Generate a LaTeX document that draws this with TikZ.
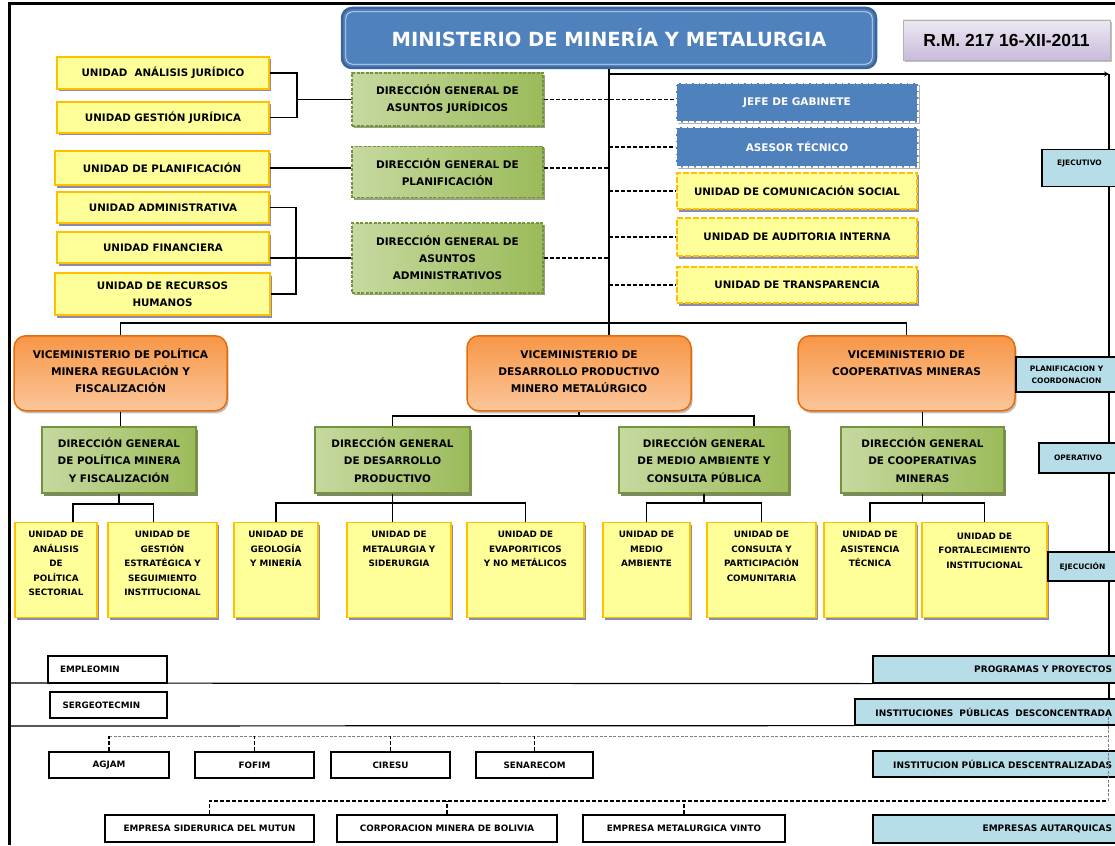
\documentclass[tikz,border=0pt]{standalone}
\usepackage{fontspec}
\setmainfont{DejaVu Sans}
\newfontfamily\arialfont{Liberation Sans}
\usepackage{tikz}
\usetikzlibrary{positioning,shadows}
\definecolor{MinBlue}{HTML}{4F81BD}
\definecolor{MinEdge}{HTML}{3A659A}
\definecolor{UnitYellow}{HTML}{FFFF99}
\definecolor{UnitEdge}{HTML}{FFC000}
\definecolor{UnitShade}{HTML}{5A5A8C}
\definecolor{DGGreen}{HTML}{9BBB59}
\definecolor{DGLight}{HTML}{C6D9A0}
\definecolor{DGEdge}{HTML}{76923C}
\definecolor{VMOrange}{HTML}{F79646}
\definecolor{VMLight}{HTML}{FBC69A}
\definecolor{VMEdge}{HTML}{E46C0A}
\definecolor{TierBlue}{HTML}{B7DEE8}
\definecolor{RMLight}{HTML}{EDE8F2}
\definecolor{RMDark}{HTML}{C9BCDB}
\newcommand{\setfs}[2]{\fontsize{#1}{#2}\selectfont\bfseries}

\begin{document}
\begin{tikzpicture}[x=1pt, y=-1pt,
      every node/.style={align=center, inner sep=1pt},
      wh/.style 2 args={minimum width=#1pt, minimum height=#2pt},
      topt/.style n args={3}{text width=#1pt, text height=#2pt, text depth=#3pt, inner sep=0pt, anchor=north},
      link/.style={line width=1.2pt},
      dline/.style={line width=1.1pt, dash pattern=on 4pt off 2pt},
      gdash/.style={gray, line width=1pt, dash pattern=on 3pt off 1.5pt},
      minbox/.style={fill=MinBlue, draw=MinEdge, line width=2.5pt, rounded corners=10pt, text=white, font=\setfs{19.5}{22}},
      rmbox/.style={top color=RMLight, bottom color=RMDark, draw=gray!60, line width=0.8pt, drop shadow={shadow xshift=1.5pt, shadow yshift=-2pt, fill=gray, opacity=.5}, font=\arialfont\setfs{17.5}{20}},
      unit/.style={fill=UnitYellow, draw=UnitEdge, line width=1.2pt, drop shadow={shadow xshift=2pt, shadow yshift=-2.5pt, fill=UnitShade, opacity=.7}, font=\setfs{10.3}{17}},
      unitd/.style={unit, dash pattern=on 6pt off 2pt},
      ucell/.style={unit, font=\setfs{8.8}{14.5}},
      dgtop/.style={left color=DGLight, right color=DGGreen, draw=DGEdge, line width=1.2pt, dash pattern=on 3pt off 1.5pt, drop shadow={shadow xshift=1.5pt, shadow yshift=-2pt, fill=DGEdge!70!black, opacity=.6}, font=\setfs{10.5}{17}},
      dg/.style={left color=DGLight, right color=DGGreen, draw=DGEdge, line width=1.2pt, drop shadow={shadow xshift=2pt, shadow yshift=-2.5pt, fill=DGEdge!60!black, opacity=.7}, font=\setfs{10.4}{17.5}},
      vice/.style={top color=VMOrange, bottom color=VMLight, draw=VMEdge, line width=1.5pt, rounded corners=12pt, drop shadow={shadow xshift=1.5pt, shadow yshift=-2.5pt, fill=gray, opacity=.5}, font=\setfs{10.6}{17}},
      staff/.style={fill=MinBlue, draw=white, line width=2pt, dash pattern=on 5pt off 1.5pt, text=white, drop shadow={shadow xshift=1.5pt, shadow yshift=-2pt, fill=gray, opacity=.6}, font=\setfs{10.5}{13}},
      tier/.style={fill=TierBlue, draw=black, line width=1.2pt, font=\setfs{7.5}{12}},
      wtier/.style={tier, align=right, inner xsep=5pt, font=\setfs{9}{11}},
      outbox/.style={fill=white, draw=black, line width=1.2pt, font=\setfs{8.8}{11}}
    ]
      \useasboundingbox (0,0) rectangle (1115,845);
      % Frame and level rail
      \draw[line width=3pt] (8,4) -- (1115,4);
      \draw[line width=3pt] (9,4) -- (9,845);
      \coordinate (rail) at (1109,74);
      \coordinate (railend) at (1109,699);
      \coordinate (ib) at (1108,736);
      \coordinate (eb) at (1108,801);
      \draw[link] (rail) -- (railend);

      % Ministry
      \node[minbox, wh={534}{60}] (min) at (609,38) {MINISTERIO DE MINERÍA Y METALURGIA};
      \draw[white!75!MinBlue, line width=0.8pt, rounded corners=7pt] ([shift={(5pt,-5pt)}]min.north west) rectangle ([shift={(-5pt,5pt)}]min.south east);
      \node[rmbox, wh={207}{40}] (rm) at (1006.5,40) {R.M. 217 16-XII-2011};

      % Support units (left)
      \node[unit, wh={212}{32}] (uaj) at (163,73) {UNIDAD \ ANÁLISIS JURÍDICO};
      \node[unit, wh={212}{31}] (ugj) at (163,117.5) {UNIDAD GESTIÓN JURÍDICA};
      \node[unit, wh={214}{34}] (upl) at (162,168) {UNIDAD DE PLANIFICACIÓN};
      \node[unit, wh={212}{31}] (uadm) at (163,207.5) {UNIDAD ADMINISTRATIVA};
      \node[unit, wh={212}{31}] (ufin) at (163,247.5) {UNIDAD FINANCIERA};
      \node[unit, wh={215}{42}] (urh) at (162.5,294) {UNIDAD DE RECURSOS\\HUMANOS};

      % General directions (support)
      \node[dgtop, wh={191}{53}] (dgaj) at (447.5,99.5) {DIRECCIÓN GENERAL DE\\ASUNTOS JURÍDICOS};
      \node[dgtop, wh={191}{51}] (dgpl) at (447.5,172) {DIRECCIÓN GENERAL DE\\PLANIFICACIÓN};
      \node[dgtop, wh={191}{70}] (dgaa) at (447.5,258) {DIRECCIÓN GENERAL DE\\ASUNTOS\\ADMINISTRATIVOS};

      % Staff (right)
      \node[staff, wh={242}{39}] (jefe) at (797,102.5) {JEFE DE GABINETE};
      \node[staff, wh={242}{40}] (ases) at (797,147) {ASESOR TÉCNICO};
      \node[unitd, wh={240}{36}] (ucs) at (797,191) {UNIDAD DE COMUNICACIÓN SOCIAL};
      \node[unitd, wh={240}{38}] (uai) at (797,237) {UNIDAD DE AUDITORIA INTERNA};
      \node[unitd, wh={240}{36}] (utr) at (797,285) {UNIDAD DE TRANSPARENCIA};

      % Vice ministries
      \node[vice, topt={213}{22.7}{52.3}] (vm1) at (120.5,335) {VICEMINISTERIO DE POLÍTICA\\MINERA REGULACIÓN Y\\FISCALIZACIÓN};
      \node[vice, topt={224}{22.7}{52.3}] (vm2) at (579,335) {VICEMINISTERIO DE\\DESARROLLO PRODUCTIVO\\MINERO METALÚRGICO};
      \node[vice, topt={217}{22.7}{52.3}] (vm3) at (906.5,335) {VICEMINISTERIO DE\\COOPERATIVAS MINERAS};

      % General directions (line)
      \node[dg, wh={154}{66}] (dgpm) at (119,460) {DIRECCIÓN GENERAL\\DE POLÍTICA MINERA\\Y FISCALIZACIÓN};
      \node[dg, wh={155}{66}] (dgdp) at (392.5,460) {DIRECCIÓN GENERAL\\DE DESARROLLO\\PRODUCTIVO};
      \node[dg, wh={170}{66}] (dgma) at (704,460) {DIRECCIÓN GENERAL\\DE MEDIO AMBIENTE Y\\CONSULTA PÚBLICA};
      \node[dg, wh={163}{66}] (dgcm) at (922.5,460) {DIRECCIÓN GENERAL\\DE COOPERATIVAS\\MINERAS};

      % Units (line)
      \node[ucell, topt={82}{15.3}{79.7}] (uasp) at (56,522) {UNIDAD DE\\ANÁLISIS\\DE\\POLÍTICA\\SECTORIAL};
      \node[ucell, topt={109}{15.3}{79.7}] (ugep) at (162.5,522) {UNIDAD DE\\GESTIÓN\\ESTRATÉGICA Y\\SEGUIMIENTO\\INSTITUCIONAL};
      \node[ucell, topt={84}{15.3}{79.7}] (ugeo) at (276,522) {UNIDAD DE\\GEOLOGÍA\\Y MINERÍA};
      \node[ucell, topt={104}{15.3}{79.7}] (umet) at (399,522) {UNIDAD DE\\METALURGIA Y\\SIDERURGIA};
      \node[ucell, topt={117}{15.3}{79.7}] (uevp) at (525.5,522) {UNIDAD DE\\EVAPORITICOS\\Y NO METÁLICOS};
      \node[ucell, topt={87}{15.3}{79.7}] (uma) at (646.5,522) {UNIDAD DE\\MEDIO\\AMBIENTE};
      \node[ucell, topt={109}{15.3}{79.7}] (ucpc) at (761.5,522) {UNIDAD DE\\CONSULTA Y\\PARTICIPACIÓN\\COMUNITARIA};
      \node[ucell, topt={92}{15.3}{79.7}] (uat) at (870,522) {UNIDAD DE\\ASISTENCIA\\TÉCNICA};
      \node[ucell, topt={125}{16.5}{78.5}] (ufi) at (984.5,522) {UNIDAD DE\\FORTALECIMIENTO\\INSTITUCIONAL};

      % Levels (right)
      \node[tier, topt={75}{15.6}{21.4}] (lej) at (1079.5,149) {EJECUTIVO};
      \node[tier, wh={101}{35}] (lpc) at (1066.5,374.5) {PLANIFICACION Y\\COORDONACION};
      \node[tier, wh={78}{30}] (lop) at (1078,458) {OPERATIVO};
      \node[tier, wh={69}{29}] (lex) at (1082.5,566.5) {EJECUCIÓN};
      \node[wtier, text width=234pt, minimum height=27pt] (lpp) at (995,669.5) {PROGRAMAS Y PROYECTOS};
      \node[wtier, text width=252pt, minimum height=26pt] (lipd) at (986,712) {INSTITUCIONES \ PÚBLICAS \ DESCONCENTRADA};
      \node[wtier, text width=234pt, minimum height=26pt] (lipz) at (995,764) {INSTITUCION PÚBLICA DESCENTRALIZADAS};
      \node[wtier, text width=234pt, minimum height=28pt] (lea) at (995,829) {EMPRESAS AUTARQUICAS};

      % Programs and institutions
      \node[outbox, align=left, text width=95pt, inner xsep=12pt, minimum height=27pt] (emp) at (107.5,669.5) {EMPLEOMIN};
      \node[outbox, align=left, text width=92pt, inner xsep=12.5pt, minimum height=26pt] (sgt) at (108.5,705) {SERGEOTECMIN};
      \node[outbox, wh={120}{26}] (agj) at (109,765) {AGJAM};
      \node[outbox, wh={119}{26}] (fof) at (254.5,765) {FOFIM};
      \node[outbox, wh={119}{26}] (cir) at (390.5,765) {CIRESU};
      \node[outbox, wh={117}{26}] (sen) at (534.5,765) {SENARECOM};
      \node[outbox, wh={209}{27}] (mut) at (209.5,828.5) {EMPRESA SIDERURICA DEL MUTUN};
      \node[outbox, wh={220}{27}] (cmb) at (447,828.5) {CORPORACION MINERA DE BOLIVIA};
      \node[outbox, wh={202}{27}] (emv) at (684,828.5) {EMPRESA METALURGICA VINTO};

      % Main lines
      \coordinate (bus) at (609,323);
      \draw[link, ->, >=stealth] (min.south |- rail) -- (rail);
      \draw[link] (min.south) -- (min.south |- vm2.north);
      \draw[link] (vm1.north) |- (bus) -| (vm3.north);

      % Support brackets
      \coordinate (bj) at (297,99.5);
      \coordinate (ba) at (296,258);
      \draw[link] (uaj.east) -| (bj) |- (ugj.east);
      \draw[link] (bj) -- (dgaj.west);
      \draw[link] (upl.east) -- (upl.east -| dgpl.west);
      \draw[link] (uadm.east) -| (ba) |- (urh.east);
      \draw[link] (dgaa.west -| ufin.east) -- (dgaa.west);

      % Dashed staff lines
      \draw[dline] (dgaj.east) -- (dgaj.east -| jefe.west);
      \draw[dline] (dgpl.east |- upl.east) -- (upl.east -| min.south);
      \draw[dline] (dgaa.east) -- (dgaa.east -| min.south);
      \draw[dline] (ases.west -| min.south) -- (ases.west);
      \draw[dline] (ucs.west -| min.south) -- (ucs.west);
      \draw[dline] (uai.west -| min.south) -- (uai.west);
      \draw[dline] (utr.west -| min.south) -- (utr.west);

      % Vice ministries to directions
      \coordinate (jvd) at (579,416);
      \draw[link] (vm1.south) -- (vm1.south |- dgpm.north);
      \draw[link] (vm2.south) -- (jvd);
      \draw[link] (dgdp.north) |- (jvd) -| ([xshift=50pt]dgma.north);
      \draw[link] (dgcm.north) -- (dgcm.north |- vm3.south);

      % Directions to units
      \coordinate (jpm) at (119,504);
      \coordinate (jdp) at (392.5,503);
      \coordinate (jma) at (704,503);
      \coordinate (jcm) at (922.5,503);
      \draw[link] (dgpm.south) -- (jpm);
      \draw[link] ([xshift=17pt]uasp.north) |- (jpm) -| ([xshift=-9pt]ugep.north);
      \draw[link] (dgdp.south) -- (dgdp.south |- umet.north);
      \draw[link] (ugeo.north) |- (jdp) -| (uevp.north);
      \draw[link] (dgma.south) -- (jma);
      \draw[link] (uma.north) |- (jma) -| (ucpc.north);
      \draw[link] (dgcm.south) -- (jcm);
      \draw[link] (uat.north) |- (jcm) -| (ufi.north);

      % Level separators
      \draw[link] (9,683) -- (lpp.south west);
      \draw[link] (9,726) -- (lipd.south west);

      % Decentralised and autarchic
      \draw[gdash] (agj.north |- ib) -- (ib);
      \draw[dline] (agj.north) -- (agj.north |- ib);
      \draw[dline] (fof.north) -- (fof.north |- ib);
      \draw[dline] (cir.north) -- (cir.north |- ib);
      \draw[dline] (sen.north) -- (sen.north |- ib);
      \draw[dline] (mut.north) |- (eb);
      \draw[dline] (cmb.north) -- (cmb.north |- eb);
      \draw[dline] (emv.north) -- (emv.north |- eb);
      \draw[gdash] (eb |- lipd.center) -- (eb);
    \end{tikzpicture}
\end{document}
